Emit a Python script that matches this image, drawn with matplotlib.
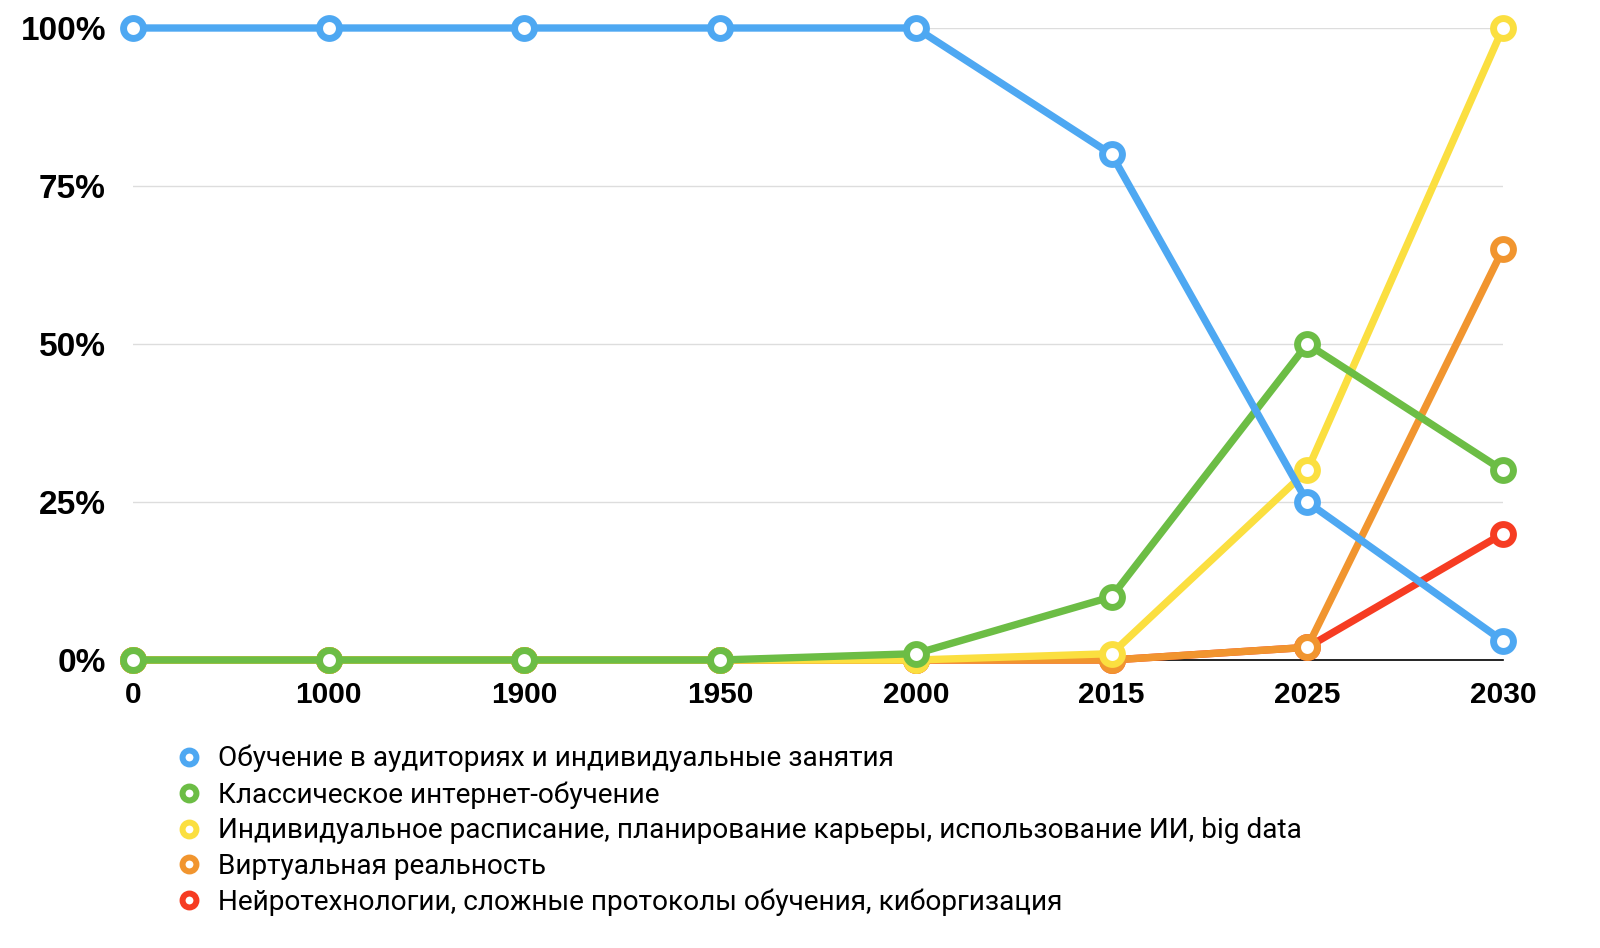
import matplotlib
matplotlib.use("Agg")
import matplotlib.pyplot as plt
from matplotlib.lines import Line2D

categories = ["0", "1000", "1900", "1950", "2000", "2015", "2025", "2030"]
series_names = [
    "Обучение в аудиториях и индивидуальные занятия",
    "Классическое интернет-обучение",
    "Индивидуальное расписание, планирование карьеры, использование ИИ, big data",
    "Виртуальная реальность",
    "Нейротехнологии, сложные протоколы обучения, киборгизация",
]
classroom = [100, 100, 100, 100, 100, 80, 25, 3]
online = [0, 0, 0, 0, 1, 10, 50, 30]
individual = [0, 0, 0, 0, 0, 1, 30, 100]
vr = [0, 0, 0, 0, 0, 0, 2, 65]
neuro = [0, 0, 0, 0, 0, 0, 2, 20]
yticks = [0, 25, 50, 75, 100]
ytick_labels = ["0%", "25%", "50%", "75%", "100%"]

series = [classroom, online, individual, vr, neuro]
colors = ["#4ea8f2", "#6cbd45", "#fbdf40", "#f1952f", "#f63c22"]

W, H = 1600, 948
fig = plt.figure(figsize=(W / 100, H / 100), dpi=100)
ax = fig.add_axes([133 / W, 1 - 660 / H, (1503 - 133) / W, (660 - 28) / H])

x = list(range(len(categories)))
n = len(series)
for i, (vals, col) in enumerate(zip(series, colors)):
    ax.plot(x, vals, color=col, lw=5.3, marker="o", ms=14.3, mew=5.0,
            mfc="white", mec=col, zorder=10 + (n - i), clip_on=False,
            solid_joinstyle="round")

ax.set_xlim(0, len(categories) - 1)
ax.set_ylim(0, 100)
ax.set_yticks(yticks)
ax.set_yticklabels(ytick_labels)
ax.set_xticks(x)
ax.set_xticklabels(categories)
for lab in ax.get_yticklabels():
    lab.set_fontfamily("Liberation Sans")
    lab.set_fontweight("bold")
    lab.set_fontsize(24)
for lab in ax.get_xticklabels():
    lab.set_fontfamily("Liberation Sans")
    lab.set_fontweight("bold")
    lab.set_fontsize(21.5)
ax.tick_params(axis="both", length=0)
ax.tick_params(axis="y", pad=19.5)
ax.tick_params(axis="x", pad=14.8)
for s in ["top", "right", "left"]:
    ax.spines[s].set_visible(False)
ax.spines["bottom"].set_color("black")
ax.spines["bottom"].set_linewidth(1.2)
ax.grid(axis="y", color="#dddddd", lw=1)
ax.set_axisbelow(True)

handles = [Line2D([], [], color=c, lw=0, marker="o", ms=10, mew=4.3,
                  mfc="white", mec=c) for c in colors]
fig.legend(handles, series_names, loc="upper left",
           bbox_to_anchor=(177 / W, 1 - 745 / H), bbox_transform=fig.transFigure,
           frameon=False, handlelength=0.83, handletextpad=0.62,
           labelspacing=0.31, borderpad=0, borderaxespad=0,
           prop={"family": "Roboto", "size": 20.2})

fig.savefig("out.png", dpi=100, facecolor="white")
